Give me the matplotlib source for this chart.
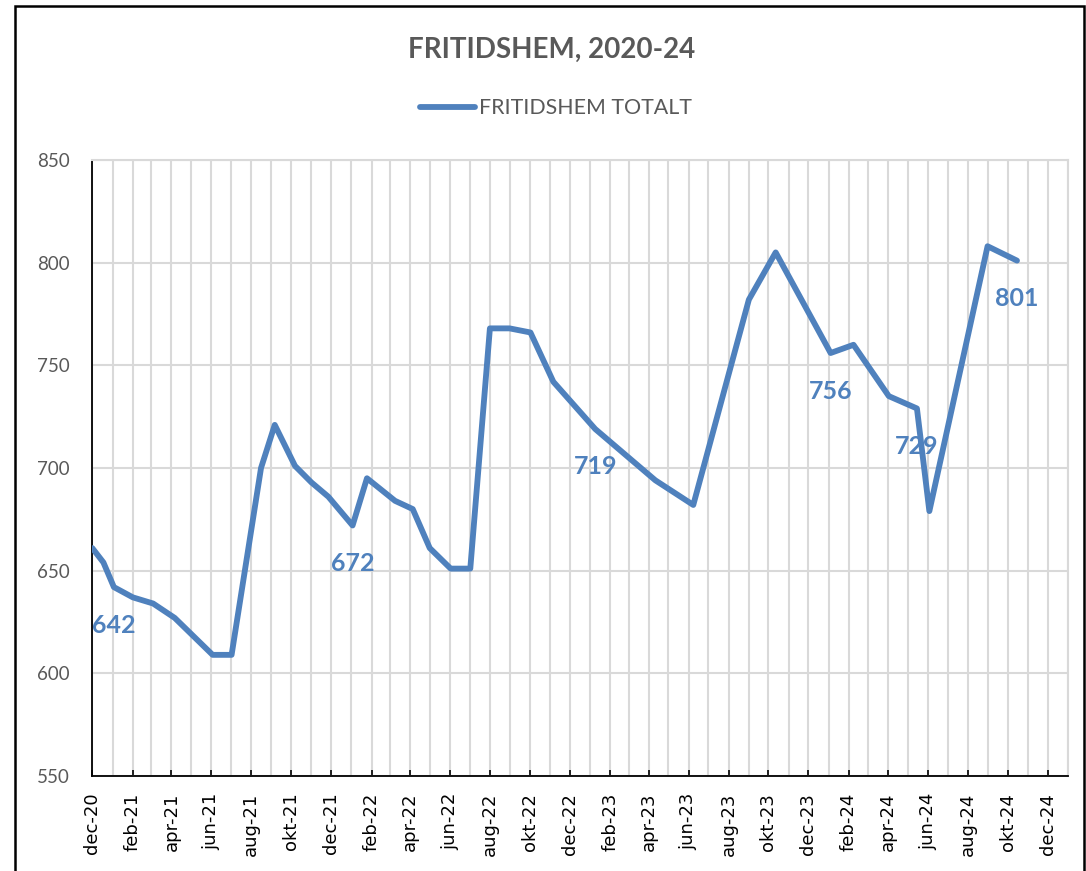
import matplotlib
matplotlib.use("Agg")
import matplotlib.pyplot as plt
import matplotlib.dates as mdates
from matplotlib.patches import Rectangle
import pandas as pd

# ---- data ----
dates = ["2020-12-01", "2020-12-18", "2021-01-03", "2021-02-01", "2021-03-04",
         "2021-04-06", "2021-05-05", "2021-06-03", "2021-07-02", "2021-08-16",
         "2021-09-06", "2021-10-07", "2021-11-01", "2021-11-27", "2022-01-03",
         "2022-01-25", "2022-03-09", "2022-04-05", "2022-05-01", "2022-06-02",
         "2022-07-02", "2022-08-01", "2022-08-31", "2022-10-02", "2022-11-06",
         "2023-01-09", "2023-04-11", "2023-06-08", "2023-09-01", "2023-10-12",
         "2024-01-04", "2024-02-08", "2024-04-02", "2024-05-15", "2024-06-03",
         "2024-08-31", "2024-10-15"]
values = [661, 654, 642, 637, 634,
          627, 618, 609, 609, 700,
          721, 701, 693, 686, 672,
          695, 684, 680, 661, 651,
          651, 768, 768, 766, 742,
          719, 694, 682, 782, 805,
          756, 760, 735, 729, 679,
          808, 801]
labelled = [2, 14, 25, 30, 33, 36]   # indices of points with data labels

tick_dates = ["2020-12-01", "2021-02-01", "2021-04-01", "2021-06-01", "2021-08-01",
              "2021-10-01", "2021-12-01", "2022-02-01", "2022-04-01", "2022-06-01",
              "2022-08-01", "2022-10-01", "2022-12-01", "2023-02-01", "2023-04-01",
              "2023-06-01", "2023-08-01", "2023-10-01", "2023-12-01", "2024-02-01",
              "2024-04-01", "2024-06-01", "2024-08-01", "2024-10-01", "2024-12-01"]
tick_labels = ["dec-20", "feb-21", "apr-21", "jun-21", "aug-21", "okt-21", "dec-21",
               "feb-22", "apr-22", "jun-22", "aug-22", "okt-22", "dec-22", "feb-23",
               "apr-23", "jun-23", "aug-23", "okt-23", "dec-23", "feb-24", "apr-24",
               "jun-24", "aug-24", "okt-24", "dec-24"]
y_ticks = [550, 600, 650, 700, 750, 800, 850]

title = "FRITIDSHEM, 2020-24"
series_name = "FRITIDSHEM TOTALT"

# ---- styling ----
W, H = 1086, 871
BLUE = "#4F81BD"
GREY_TXT = "#595959"
GRID = "#D9D9D9"
FONT = ["Lato", "DejaVu Sans"]

x = pd.to_datetime(dates)

fig = plt.figure(figsize=(W / 100, H / 100), dpi=100)
ax = fig.add_axes([92.3 / W, 1 - 776 / H, (1068 - 92.3) / W, (776 - 160) / H])

line, = ax.plot(x, values, color=BLUE, lw=4.2, solid_joinstyle="round",
                solid_capstyle="round", label=series_name, zorder=3)

for i in labelled:
    ax.annotate(str(values[i]), (x[i], values[i]), xytext=(0, -38),
                textcoords="offset pixels", ha="center", va="center",
                fontsize=18, fontweight="bold", color=BLUE, family=FONT,
                zorder=4)

ax.set_xlim(pd.Timestamp("2020-12-01"), pd.Timestamp("2025-01-01"))
ax.set_ylim(550, 850)
ax.set_yticks(y_ticks)
ax.set_yticklabels([str(v) for v in y_ticks], family=FONT, fontsize=13.5,
                   color=GREY_TXT)
ax.tick_params(axis="y", length=0, pad=16)

ax.set_xticks(pd.to_datetime(tick_dates))
ax.set_xticklabels(tick_labels, rotation=90, fontsize=13, color="black",
                   family=["DejaVu Sans"])
ax.xaxis.set_minor_locator(mdates.MonthLocator())
ax.tick_params(axis="x", which="major", direction="in", length=4.5, width=1.2,
               color="black", pad=12)
ax.tick_params(axis="x", which="minor", length=0)

ax.grid(True, axis="y", color=GRID, lw=1.5, zorder=0)
ax.grid(True, axis="x", which="both", color=GRID, lw=1.5, zorder=0)
ax.set_axisbelow(True)

for s in ["top", "right"]:
    ax.spines[s].set_color(GRID)
    ax.spines[s].set_linewidth(1.5)
for s in ["left", "bottom"]:
    ax.spines[s].set_color("black")
    ax.spines[s].set_linewidth(1.3)

# title and legend
fig.text(552 / W, 1 - 58 / H, title, ha="center", va="baseline",
         fontsize=20, fontweight="bold", color=GREY_TXT, family=FONT)
leg = fig.legend(handles=[line], loc="center", bbox_to_anchor=(556 / W, 1 - 108 / H),
                 frameon=False, handlelength=2.55, handletextpad=0.2,
                 prop={"family": FONT, "size": 15.4})
for t in leg.get_texts():
    t.set_color(GREY_TXT)

# outer chart frame
fig.patches.append(Rectangle((15 / W, -0.05), (1084 - 15) / W, 1.05 - 6 / H,
                             transform=fig.transFigure, fill=False,
                             edgecolor="black", lw=1.8))

fig.savefig("out.png", dpi=100)
